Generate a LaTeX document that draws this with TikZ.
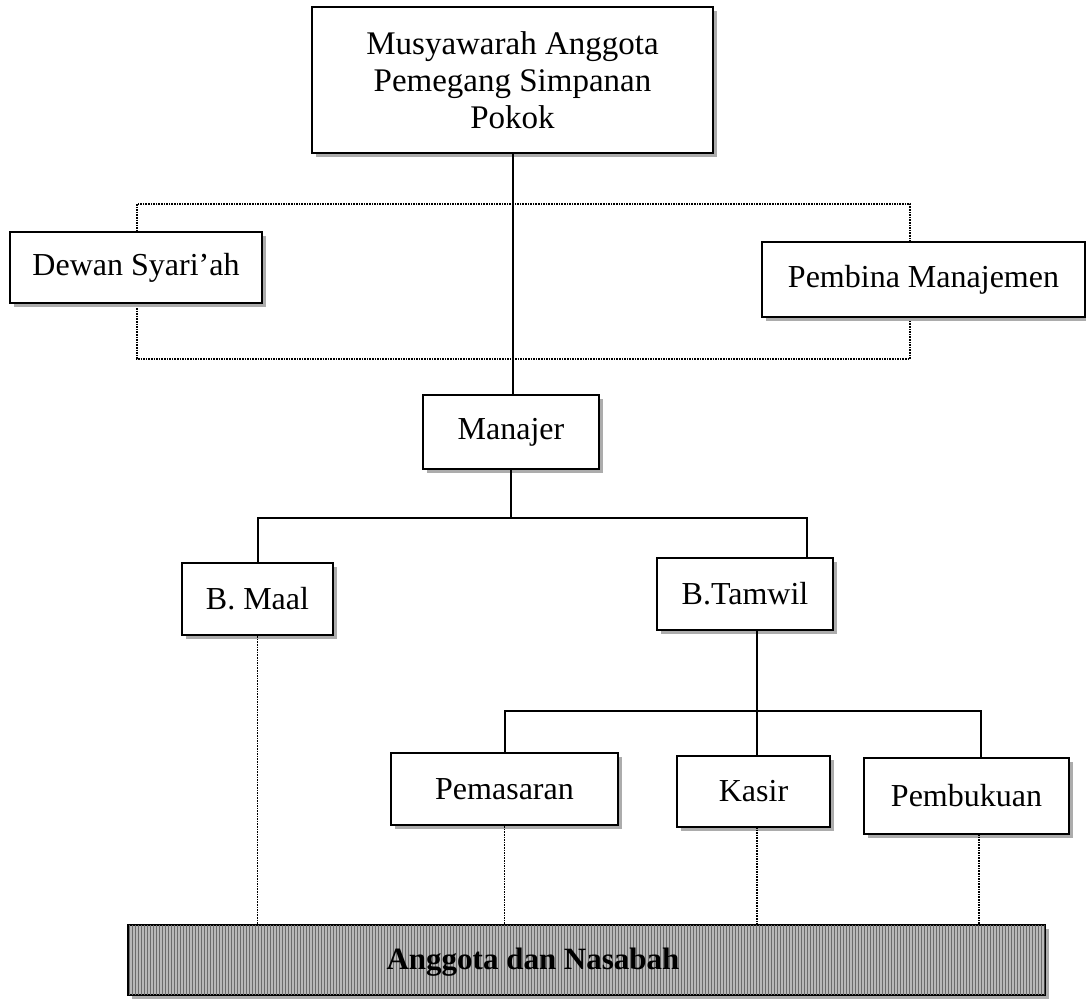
\documentclass[tikz,border=0pt]{standalone}
\usepackage{fontspec}
\setmainfont{Liberation Serif}
\usetikzlibrary{shadows,patterns}
\begin{document}
\begin{tikzpicture}[x=1pt,y=-1pt,
  orgbox/.style={draw=black, line width=2.2pt, fill=white, inner sep=0pt,
    font=\fontsize{32}{37}\selectfont, align=center,
    drop shadow={shadow xshift=4pt, shadow yshift=-4pt, fill=gray!65, opacity=1}},
  link/.style={line width=2pt, black},
  dlink/.style={densely dotted, line width=1.6pt, black}]
\useasboundingbox (0,0) rectangle (1086,1001);
% dotted frame behind advisory boxes
\draw[dlink] (137,204) rectangle (910,359);
% nodes
\node[orgbox, minimum width=401pt, minimum height=146pt, font=\fontsize{33}{37}\selectfont] (top) at (512.5,80) {Musyawarah Anggota\\Pemegang Simpanan\\Pokok};
\node[orgbox, minimum width=252pt, minimum height=71pt] (dewan) at (136,267.5) {Dewan Syari’ah};
\node[orgbox, minimum width=323pt, minimum height=75pt] (pembina) at (923.5,279.5) {Pembina Manajemen};
\node[orgbox, minimum width=176pt, minimum height=74pt] (manajer) at (511,432) {Manajer};
\node[orgbox, minimum width=151pt, minimum height=72pt] (bmaal) at (257.5,599) {B. Maal};
\node[orgbox, minimum width=176pt, minimum height=72pt] (btamwil) at (745,594) {B.Tamwil};
\node[orgbox, minimum width=227pt, minimum height=72pt] (pemasaran) at (504.5,789) {Pemasaran};
\node[orgbox, minimum width=153pt, minimum height=71pt] (kasir) at (753.5,791.5) {Kasir};
\node[orgbox, minimum width=205pt, minimum height=76pt] (pembukuan) at (966.5,796) {Pembukuan};
\node[draw=black, line width=2pt, fill=gray!55, minimum width=917pt, minimum height=70pt, inner sep=0pt,
  drop shadow={shadow xshift=4pt, shadow yshift=-4pt, fill=gray!65, opacity=1}] (bar) at (586.5,960) {};
\fill[pattern=vertical lines, pattern color=gray!85!black] ([xshift=1.5pt,yshift=-1.5pt]bar.north west) rectangle ([xshift=-1.5pt,yshift=1.5pt]bar.south east);
\node[font=\fontsize{31}{35}\selectfont\bfseries, inner sep=0pt] (barlabel) at (533,962) {Anggota dan Nasabah};
% coordinates
\coordinate (tw) at (807,518);
\coordinate (kv) at (757,630);
\coordinate (pb) at (981,711);
\coordinate (kd) at (757,827);
\coordinate (pd) at (979,834);
% solid connectors
\draw[link] (top.south) -- (top.south |- manajer.north);
\draw[link] (manajer.south) -- (manajer.south |- tw);
\draw[link] (bmaal.north) |- (tw) -- (tw |- btamwil.north);
\draw[link] (kv) -- (kv |- kasir.north);
\draw[link] (pemasaran.north) |- (pb) -- (pb |- pembukuan.north);
% dotted connectors to bar
\draw[dlink] (bmaal.south) -- (bmaal.south |- bar.north);
\draw[dlink] (pemasaran.south) -- (pemasaran.south |- bar.north);
\draw[dlink] (kd) -- (kd |- bar.north);
\draw[dlink] (pd) -- (pd |- bar.north);
\end{tikzpicture}
\end{document}
